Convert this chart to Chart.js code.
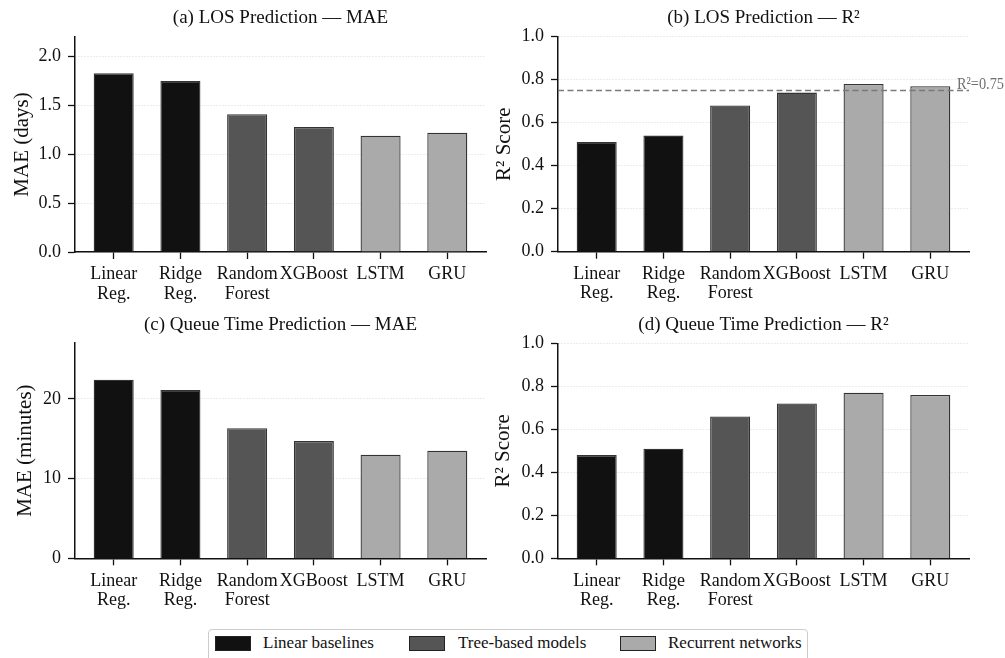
<!DOCTYPE html>
<html>
<head>
<meta charset="utf-8">
<script src="https://cdn.jsdelivr.net/npm/chart.js@4.4.1/dist/chart.umd.min.js"></script>
<style>
  body { margin:0; background:#fff; width:1005px; height:658px; overflow:hidden; position:relative; font-family:'Liberation Serif', serif; }
  canvas { position:absolute; }
  #legend { position:absolute; left:208px; top:629px; width:600px; height:40px; border:1px solid #cccccc; border-radius:4px; box-sizing:border-box; background:#fff; }
  .patch { position:absolute; top:5.5px; width:36px; height:15px; box-sizing:border-box; border:1.3px solid #222; }
  .ltxt { position:absolute; top:3px; font-size:17px; line-height:20px; color:#111; white-space:nowrap; }
</style>
</head>
<body>
<canvas id="pa" width="500" height="310" style="left:0px;top:0px"></canvas>
<canvas id="pb" width="515" height="310" style="left:490px;top:0px"></canvas>
<canvas id="pc" width="500" height="320" style="left:0px;top:310px"></canvas>
<canvas id="pd" width="515" height="320" style="left:490px;top:310px"></canvas>
<div id="legend"></div>
<script>
// ---------- data ----------
const categories = [['Linear','Reg.'], ['Ridge','Reg.'], ['Random','Forest'], 'XGBoost', 'LSTM', 'GRU'];
const modelGroups = [0, 0, 1, 1, 2, 2];
const groupLabels = ['Linear baselines', 'Tree-based models', 'Recurrent networks'];
const losMAE   = [1.83, 1.75, 1.41, 1.28, 1.19, 1.22];
const losR2    = [0.51, 0.54, 0.68, 0.74, 0.78, 0.77];
const queueMAE = [22.4, 21.1, 16.3, 14.7, 13.0, 13.5];
const queueR2  = [0.48, 0.51, 0.66, 0.72, 0.77, 0.76];
const maeDaysTicks = [0, 0.5, 1.0, 1.5, 2.0];
const maeMinTicks  = [0, 10, 20];
const r2Ticks      = [0, 0.2, 0.4, 0.6, 0.8, 1.0];
const r2Threshold  = 0.75;
const r2ThresholdLabel = 'R²=0.75';

// ---------- style ----------
const groupColors = ['#111111', '#555555', '#aaaaaa'];
const FONT = "'Liberation Serif', 'Times New Roman', serif";
Chart.defaults.font.family = FONT;
Chart.defaults.color = '#111';

const thresholdPlugin = {
  id: 'threshold',
  afterDatasetsDraw(chart, args, opts) {
    if (!opts || !opts.show) return;
    const {ctx, chartArea, scales} = chart;
    const y = scales.y.getPixelForValue(opts.value);
    ctx.save();
    ctx.strokeStyle = '#7a7a7a';
    ctx.lineWidth = 1.5;
    ctx.setLineDash([6, 3.5]);
    ctx.beginPath();
    ctx.moveTo(chartArea.left, y);
    ctx.lineTo(chartArea.right, y);
    ctx.stroke();
    ctx.setLineDash([]);
    ctx.fillStyle = '#707070';
    ctx.font = "17px " + FONT;
    ctx.textAlign = 'left';
    ctx.textBaseline = 'alphabetic';
    const x0 = scales.x.getPixelForValue(5.4);
    ctx.fillText(opts.label, x0, scales.y.getPixelForValue(opts.value + 0.006), chart.width - x0 - 1);
    ctx.restore();
  }
};

function makePanel(id, p) {
  const data = p.values.map((v, i) => ({x: i, y: v}));
  new Chart(document.getElementById(id), {
    type: 'bar',
    data: {
      datasets: [{
        data: data,
        backgroundColor: modelGroups.map(g => groupColors[g]),
        borderColor: '#333333',
        borderWidth: 1.3,
        categoryPercentage: 1.0,
        barPercentage: 0.6
      }]
    },
    plugins: [thresholdPlugin],
    options: {
      responsive: false,
      animation: false,
      devicePixelRatio: 1,
      layout: { padding: { left: 0, right: p.padRight, top: 0, bottom: 0 } },
      plugins: {
        legend: { display: false },
        tooltip: { enabled: false },
        title: {
          display: true, text: p.title, fullSize: false,
          font: { size: 19, weight: 'normal', lineHeight: 1.2 }, color: '#111',
          padding: { top: p.titleTop, bottom: p.titleBottom }
        },
        threshold: p.threshold || { show: false }
      },
      scales: {
        x: {
          type: 'linear', min: -0.58, max: 5.58, bounds: 'data', offset: false,
          afterBuildTicks: s => { s.ticks = categories.map((c, i) => ({ value: i })); },
          ticks: {
            callback: v => categories[v], autoSkip: false, maxRotation: 0, minRotation: 0,
            font: { size: 18, lineHeight: 1.07 }, color: '#111', padding: 6
          },
          grid: { offset: false, drawOnChartArea: false, drawTicks: true, tickLength: 7, tickColor: '#111', tickWidth: 1.3 },
          border: { display: true, color: '#111', width: 1.5 },
          afterFit: s => { s.height = p.xHeight; }
        },
        y: {
          min: 0, max: p.yMax, bounds: 'data',
          afterBuildTicks: s => { s.ticks = p.yTicks.map(v => ({ value: v })); },
          ticks: { callback: v => Number(v).toFixed(p.dec), font: { size: 18 }, color: '#111', padding: 7 },
          grid: { color: '#cfcfcf', lineWidth: 0.8, tickLength: 7, tickColor: '#111', tickWidth: 1.3, tickBorderDash: [] },
          border: { display: true, color: '#111', width: 1.5, dash: [1, 2] },
          title: { display: true, text: p.yTitle, font: { size: 21, lineHeight: 1.2 }, color: '#111', padding: { top: p.yTitlePad, bottom: 0 } },
          afterFit: s => { s.width = p.yWidth; }
        }
      }
    }
  });
}

makePanel('pa', { values: losMAE, yMax: 2.2, yTicks: maeDaysTicks, dec: 1,
  title: '(a) LOS Prediction — MAE', yTitle: 'MAE (days)',
  titleTop: 6.6, titleBottom: 7.6, yWidth: 75, padRight: 14, xHeight: 58, yTitlePad: 10 });
makePanel('pb', { values: losR2, yMax: 1.0, yTicks: r2Ticks, dec: 1,
  title: '(b) LOS Prediction — R²', yTitle: 'R² Score',
  titleTop: 6.6, titleBottom: 7.3, yWidth: 68, padRight: 36, xHeight: 58.3, yTitlePad: 1.4,
  threshold: { show: true, value: r2Threshold, label: r2ThresholdLabel } });
makePanel('pc', { values: queueMAE, yMax: 27, yTicks: maeMinTicks, dec: 0,
  title: '(c) Queue Time Prediction — MAE', yTitle: 'MAE (minutes)',
  titleTop: 3.6, titleBottom: 6.6, yWidth: 75, padRight: 14, xHeight: 71.7, yTitlePad: 12.4 });
makePanel('pd', { values: queueR2, yMax: 1.0, yTicks: r2Ticks, dec: 1,
  title: '(d) Queue Time Prediction — R²', yTitle: 'R² Score',
  titleTop: 3.6, titleBottom: 6.9, yWidth: 68, padRight: 36, xHeight: 71.7, yTitlePad: 0.4 });

// ---------- figure legend ----------
const legend = document.getElementById('legend');
const patchLeft = [6, 200, 411];
const textLeft = [54, 249, 459];
groupLabels.forEach((lab, g) => {
  const pt = document.createElement('div');
  pt.className = 'patch';
  pt.style.left = patchLeft[g] + 'px';
  pt.style.background = groupColors[g];
  legend.appendChild(pt);
  const tx = document.createElement('div');
  tx.className = 'ltxt';
  tx.style.left = textLeft[g] + 'px';
  tx.textContent = lab;
  legend.appendChild(tx);
});
</script>
</body>
</html>
